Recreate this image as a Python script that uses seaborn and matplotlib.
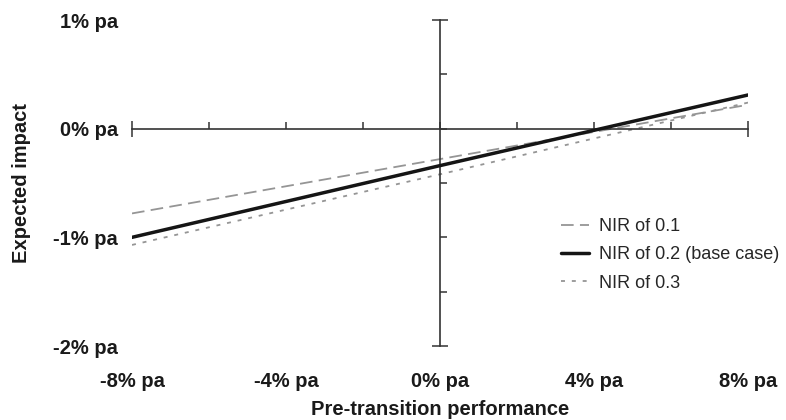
import matplotlib
matplotlib.use("Agg")
import matplotlib.pyplot as plt
import seaborn as sns
import pandas as pd
from matplotlib.ticker import FixedLocator

# ---- data ----
performance = [-8, 0, 8]
nir_01 = [-0.78, -0.28, 0.22]
nir_02 = [-1.00, -0.34, 0.31]
nir_03 = [-1.07, -0.42, 0.24]
series_labels = ["NIR of 0.1", "NIR of 0.2 (base case)", "NIR of 0.3"]
x_ticks = [-8, -4, 0, 4, 8]
x_tick_labels = ["-8% pa", "-4% pa", "0% pa", "4% pa", "8% pa"]
x_minor = [-6, -2, 2, 6]
y_ticks = [-2, -1, 0, 1]
y_tick_labels = ["-2% pa", "-1% pa", "0% pa", "1% pa"]
y_minor = [-1.5, -0.5, 0.5]

sns.set_style("white")
plt.rcParams['font.family'] = ['Liberation Sans', 'DejaVu Sans']

fig = plt.figure(figsize=(7.86, 4.2), dpi=100)
ax = fig.add_axes([132 / 786, 1 - 346 / 420, 616 / 786, 326 / 420])

styles = [
    dict(color="#959595", lw=1.3, ls=(0, (7, 3.5)), z=2),
    dict(color="#151515", lw=2.5, ls="-", z=3),
    dict(color="#959595", lw=1.3, ls=(0, (2.2, 3.8)), z=2),
]
for vals, lab, st in zip([nir_01, nir_02, nir_03], series_labels, styles):
    df = pd.DataFrame({"x": performance, "y": vals})
    sns.lineplot(data=df, x="x", y="y", ax=ax, label=lab, color=st["color"],
                 linewidth=st["lw"], linestyle=st["ls"], zorder=st["z"])

ax.set_xlim(-8, 8)
ax.set_ylim(-2, 1)

axis_col = "#333333"
ax.spines["left"].set_visible(False)
ax.spines["bottom"].set_visible(False)
ax.spines["top"].set_position(("data", 0))
ax.spines["right"].set_position(("data", 0))
for s in ("top", "right"):
    ax.spines[s].set_color(axis_col)
    ax.spines[s].set_linewidth(1.2)
    ax.spines[s].set_visible(True)

ax.set_xticks(x_ticks)
ax.set_xticklabels(x_tick_labels, fontsize=14.5, fontweight="bold", color="#1a1a1a")
ax.xaxis.set_minor_locator(FixedLocator(x_minor))
ax.set_yticks(y_ticks)
ax.set_yticklabels(y_tick_labels, fontsize=14.5, fontweight="bold", color="#1a1a1a")
ax.yaxis.set_minor_locator(FixedLocator(y_minor))

ax.tick_params(axis="x", which="both", bottom=False, top=True, labelbottom=True,
               labeltop=False, direction="out", length=5, width=1.1, color=axis_col)
ax.tick_params(axis="x", which="major", pad=14)
ax.tick_params(axis="y", which="both", left=False, right=True, labelleft=True,
               labelright=False, direction="out", length=5, width=1.1, color=axis_col)
ax.tick_params(axis="y", which="major", pad=5)

# end ticks cross the axis on both sides
xt = ax.xaxis.get_major_ticks()
for t in (xt[0], xt[-1]):
    t.tick2line.set_marker("|")
    t.tick2line.set_markersize(11)
yt = ax.yaxis.get_major_ticks()
for t in (yt[0], yt[-1]):
    t.tick2line.set_marker("_")
    t.tick2line.set_markersize(11)

ax.set_xlabel("Pre-transition performance", fontsize=14.5, fontweight="bold",
              labelpad=6, color="#1a1a1a")
ax.set_ylabel("Expected impact", fontsize=14.5, fontweight="bold",
              labelpad=16, color="#1a1a1a")

ax.legend(loc="upper left", bbox_to_anchor=(0.697, 0.392), frameon=False,
          fontsize=13, handlelength=1.55, handletextpad=0.55, labelspacing=0.62,
          borderpad=0, borderaxespad=0)

fig.savefig("out.png", dpi=100)
